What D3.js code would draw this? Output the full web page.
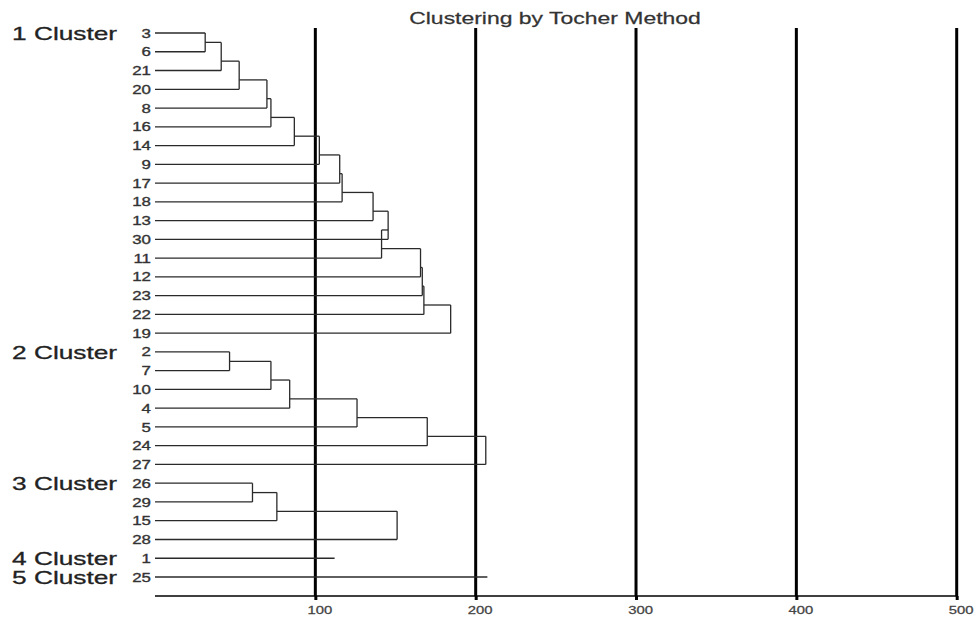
<!DOCTYPE html>
<html>
<head>
<meta charset="utf-8">
<script src="https://cdn.jsdelivr.net/npm/d3@7"></script>
<style>
  body { margin: 0; background: #fff; }
  text { font-family: Arial, "Liberation Sans", sans-serif; }
</style>
</head>
<body>
<div id="chart"></div>
<script>
    // leaves of each Tocher cluster, in plotting order
    var clusterNames = ["1 Cluster", "2 Cluster", "3 Cluster", "4 Cluster", "5 Cluster"];
    var cluster1 = ["3", "6", "21", "20", "8", "16", "14", "9", "17", "18", "13", "30", "11", "12", "23", "22", "19"];
    var cluster2 = ["2", "7", "10", "4", "5", "24", "27"];
    var cluster3 = ["26", "29", "15", "28"];
    var cluster4 = ["1"];
    var cluster5 = ["25"];

    // height at which each leaf joins its cluster (singletons: length of the line)
    var heights1 = [31.3, 41.3, 52.5, 69.8, 72.3, 86.9, 102.5, 115.2, 116.7, 136, 145.4, 141.3, 165.6, 166.7, 167.7, 184.4];
    var heights2 = [46.5, 72.3, 84, 126, 169.8, 206.3];
    var heights3 = [60.8, 76, 151];
    var heights4 = [112];
    var heights5 = [207.3];

    var tickValues = [100, 200, 300, 400, 500];
    var title = "Clustering by Tocher Method";

    var width = 979,
        height = 622,
        stretch = 1.35;

    var clusters = [cluster1, cluster2, cluster3, cluster4, cluster5],
        heights = [heights1, heights2, heights3, heights4, heights5];

    var allLeaves = [].concat.apply([], clusters);

    var x = d3.scaleLinear().domain([0, 500]).range([155, 956.7]);
    var y = d3.scalePoint().domain(allLeaves).range([33, 577]);

    var svg = d3.select("#chart").append("svg")
        .attr("width", width)
        .attr("height", height);

    // thick reference lines
    svg.append("g").selectAll("line")
        .data(tickValues)
        .enter().append("line")
        .attr("x1", function(d) {return x(d);})
        .attr("x2", function(d) {return x(d);})
        .attr("y1", 28)
        .attr("y2", 596)
        .style("stroke", "#000")
        .style("stroke-width", 3);

    // axis
    var axis = svg.append("g")
        .attr("transform", "translate(0,596)")
        .call(d3.axisBottom(x).tickValues(tickValues).tickSizeInner(4).tickSizeOuter(0).tickPadding(6));
    axis.select(".domain")
        .attr("d", "M" + x(0) + ",0H" + x(500))
        .style("stroke", "#000")
        .style("stroke-width", 1.5);
    axis.selectAll(".tick line").style("stroke", "#000").style("stroke-width", 3);
    axis.selectAll(".tick text")
        .style("font-size", "11px")
        .style("fill", "#444")
        .style("stroke", "#444")
        .style("stroke-width", 0.25)
        .attr("transform", "translate(4,0) scale(" + stretch + ",1)");

    // dendrogram segments
    var g = svg.append("g")
        .style("stroke", "#2a2a2a")
        .style("stroke-width", 1.3)
        .style("fill", "none");

    clusters.forEach(function(leaves, c) {
        var h = heights[c];
        if (leaves.length == 1) {
            g.append("line")
                .attr("x1", x(0)).attr("x2", x(h[0]))
                .attr("y1", y(leaves[0])).attr("y2", y(leaves[0]));
            return;
        }
        var nodeY = y(leaves[0]), nodeH = h[0];
        // first leaf
        g.append("line")
            .attr("x1", x(0)).attr("x2", x(h[0]))
            .attr("y1", y(leaves[0])).attr("y2", y(leaves[0]));
        for (var i = 1; i < leaves.length; i++) {
            var ly = y(leaves[i]), hi = h[i - 1];
            g.append("line")
                .attr("x1", x(0)).attr("x2", x(hi))
                .attr("y1", ly).attr("y2", ly);
            if (i > 1) {
                g.append("line")
                    .attr("x1", x(nodeH)).attr("x2", x(hi))
                    .attr("y1", nodeY).attr("y2", nodeY);
            }
            g.append("line")
                .attr("x1", x(hi)).attr("x2", x(hi))
                .attr("y1", nodeY).attr("y2", ly);
            nodeY = (y(leaves[i - 1]) + ly) / 2;
            nodeH = hi;
        }
    });

    // leaf labels
    svg.append("g").selectAll("text")
        .data(allLeaves)
        .enter().append("text")
        .attr("transform", function(d) {return "translate(151," + (y(d) + 4.6) + ") scale(1.3,1)";})
        .attr("text-anchor", "end")
        .style("font-size", "13px")
        .style("fill", "#333")
        .style("stroke", "#333")
        .style("stroke-width", 0.35)
        .text(function(d) {return d;});

    // cluster labels
    svg.append("g").selectAll("text")
        .data(clusterNames)
        .enter().append("text")
        .attr("transform", function(d, i) {return "translate(12," + (y(clusters[i][0]) + 6.8) + ") scale(1.46,1)";})
        .style("font-size", "18px")
        .style("fill", "#222")
        .style("stroke", "#222")
        .style("stroke-width", 0.3)
        .text(function(d) {return d;});

    svg.append("text")
        .attr("transform", "translate(555,24) scale(" + stretch + ",1)")
        .attr("text-anchor", "middle")
        .style("font-size", "17px")
        .style("fill", "#333")
        .style("stroke", "#333")
        .style("stroke-width", 0.25)
        .text(title);
</script>
</body>
</html>
